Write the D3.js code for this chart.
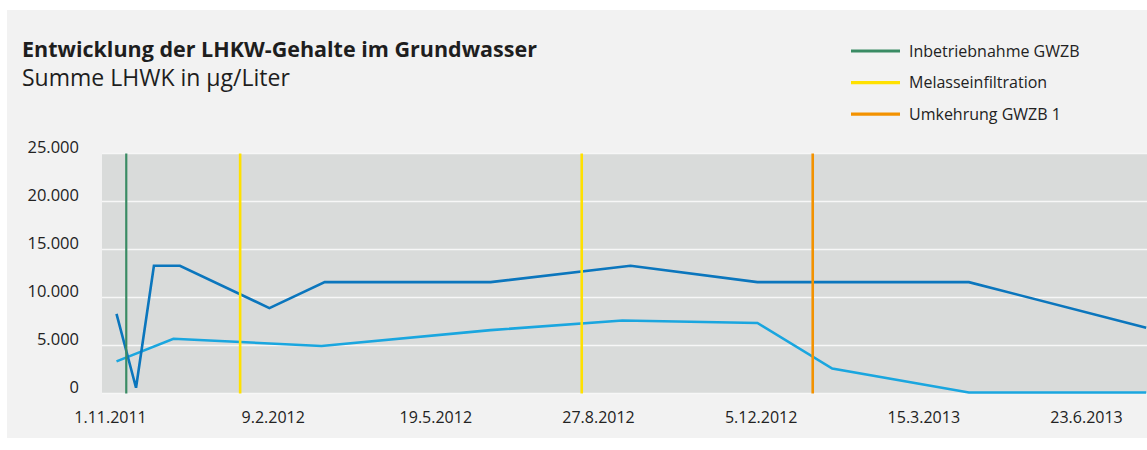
<!DOCTYPE html>
<html lang="de">
<head>
<meta charset="utf-8">
<script src="https://cdn.jsdelivr.net/npm/d3@7"></script>
<style>
  html, body { margin: 0; padding: 0; background: #ffffff; }
  svg { display: block; font-family: "Open Sans", sans-serif; }
</style>
</head>
<body>
<svg id="chart" width="1147" height="450"></svg>
<script>
// Messreihen: Summe LHKW in µg/Liter
const dunkelDaten = ["5.11.2011", "17.11.2011", "28.11.2011", "14.12.2011", "7.2.2012", "12.3.2012",
                     "22.6.2012", "16.9.2012", "3.12.2012", "12.4.2013", "30.7.2013"];
const dunkelWerte = [8300, 600, 13300, 13300, 8900, 11600, 11600, 13300, 11600, 11600, 6850];

const hellDaten = ["5.11.2011", "10.12.2011", "10.3.2012", "22.6.2012", "11.9.2012", "3.12.2012",
                   "18.1.2013", "12.4.2013", "30.7.2013"];
const hellWerte = [3350, 5700, 4950, 6600, 7600, 7350, 2600, 100, 100];

// Ereignisse (senkrechte Markierungen)
const ereignisDaten = ["11.11.2011", "20.1.2012", "17.8.2012", "6.1.2013"];
const ereignisTyp = ["green", "yellow", "yellow", "orange"];

// Legende
const legendeTexte = ["Inbetriebnahme GWZB", "Melasseinfiltration", "Umkehrung GWZB 1"];
const legendeTyp = ["green", "yellow", "orange"];

// Achsen
const xTicks = ["1.11.2011", "9.2.2012", "19.5.2012", "27.8.2012", "5.12.2012", "15.3.2013", "23.6.2013"];
const yTicks = [0, 5000, 10000, 15000, 20000, 25000];

const farben = { green: "#3a8b64", yellow: "#ffe100", orange: "#f39200" };
const dunkelBlau = "#0b76bd";
const hellBlau = "#1aa6df";

const parse = d3.utcParse("%d.%m.%Y");
const fmtTausend = v => d3.format(",")(v).replace(/,/g, ".");

const svg = d3.select("#chart");

// Hintergrundfläche
svg.append("rect").attr("x", 7).attr("y", 10).attr("width", 1140).attr("height", 428).attr("fill", "#f2f2f2");

// Titel
svg.append("text").attr("x", 22).attr("y", 57)
  .attr("font-size", 21.5).attr("font-weight", 700).attr("fill", "#1e1e1e")
  .text("Entwicklung der LHKW-Gehalte im Grundwasser");
svg.append("text").attr("x", 22).attr("y", 86)
  .attr("font-size", 23).attr("fill", "#1e1e1e")
  .text("Summe LHWK in µg/Liter");

// Skalen
const plotLeft = 102, plotRight = 1147, plotTop = 153.5, plotBottom = 393.5;
const x = d3.scaleUtc()
  .domain([parse(xTicks[0]), parse(xTicks[xTicks.length - 1])])
  .range([110, 1086]);
const y = d3.scaleLinear().domain([0, 25000]).range([plotBottom, plotTop]);

// Diagrammfläche
svg.append("defs").append("clipPath").attr("id", "plotClip")
  .append("rect").attr("x", plotLeft).attr("y", plotTop - 2)
  .attr("width", plotRight - plotLeft).attr("height", plotBottom - plotTop + 4);

svg.append("rect").attr("x", plotLeft).attr("y", plotTop)
  .attr("width", plotRight - plotLeft).attr("height", plotBottom - plotTop)
  .attr("fill", "#d9dbda");

// Gitterlinien
svg.append("g").selectAll("line").data(yTicks).join("line")
  .attr("x1", plotLeft).attr("x2", plotRight)
  .attr("y1", d => y(d)).attr("y2", d => y(d))
  .attr("stroke", "#f7f7f7").attr("stroke-width", 1.6);

// y-Achse
const yAxis = svg.append("g").attr("transform", `translate(79,0)`)
  .call(d3.axisLeft(y).tickValues(yTicks).tickFormat(fmtTausend).tickSize(0).tickPadding(0));
yAxis.select(".domain").remove();
yAxis.selectAll("text").attr("font-size", 16.5).attr("fill", "#222").attr("font-family", "Open Sans, sans-serif")
  .attr("dy", "-0.05em").attr("text-anchor", "end");

// x-Achse
const xAxis = svg.append("g").attr("transform", `translate(0,${plotBottom})`)
  .call(d3.axisBottom(x).tickValues(xTicks.map(parse)).tickFormat(d3.utcFormat("%-d.%-m.%Y")).tickSize(0).tickPadding(0));
xAxis.select(".domain").remove();
xAxis.selectAll("text").attr("font-size", 16).attr("fill", "#222").attr("font-family", "Open Sans, sans-serif")
  .attr("y", 29).attr("dy", 0);

// Linien
const plot = svg.append("g").attr("clip-path", "url(#plotClip)");
const linie = d3.line().x(d => x(d[0])).y(d => y(d[1]));

plot.append("path")
  .datum(hellDaten.map((d, i) => [parse(d), hellWerte[i]]))
  .attr("d", linie).attr("fill", "none").attr("stroke", hellBlau).attr("stroke-width", 2.6)
  .attr("stroke-linejoin", "miter");

plot.append("path")
  .datum(dunkelDaten.map((d, i) => [parse(d), dunkelWerte[i]]))
  .attr("d", linie).attr("fill", "none").attr("stroke", dunkelBlau).attr("stroke-width", 2.6)
  .attr("stroke-linejoin", "miter");

// Ereignis-Markierungen
plot.selectAll("line.ereignis").data(ereignisDaten).join("line")
  .attr("class", "ereignis")
  .attr("x1", d => x(parse(d))).attr("x2", d => x(parse(d)))
  .attr("y1", plotTop).attr("y2", plotBottom)
  .attr("stroke", (d, i) => farben[ereignisTyp[i]])
  .attr("stroke-width", (d, i) => ereignisTyp[i] === "green" ? 2.2 : 2.6);

// Legende
const leg = svg.append("g").selectAll("g").data(legendeTexte).join("g")
  .attr("transform", (d, i) => `translate(851,${51 + i * 31.6})`);
leg.append("line").attr("x1", 0).attr("x2", 49).attr("y1", 0).attr("y2", 0)
  .attr("stroke", (d, i) => farben[legendeTyp[i]]).attr("stroke-width", 3.2);
leg.append("text").attr("x", 58).attr("y", 5.8)
  .attr("font-size", 16).attr("fill", "#222").text(d => d);
</script>
</body>
</html>
